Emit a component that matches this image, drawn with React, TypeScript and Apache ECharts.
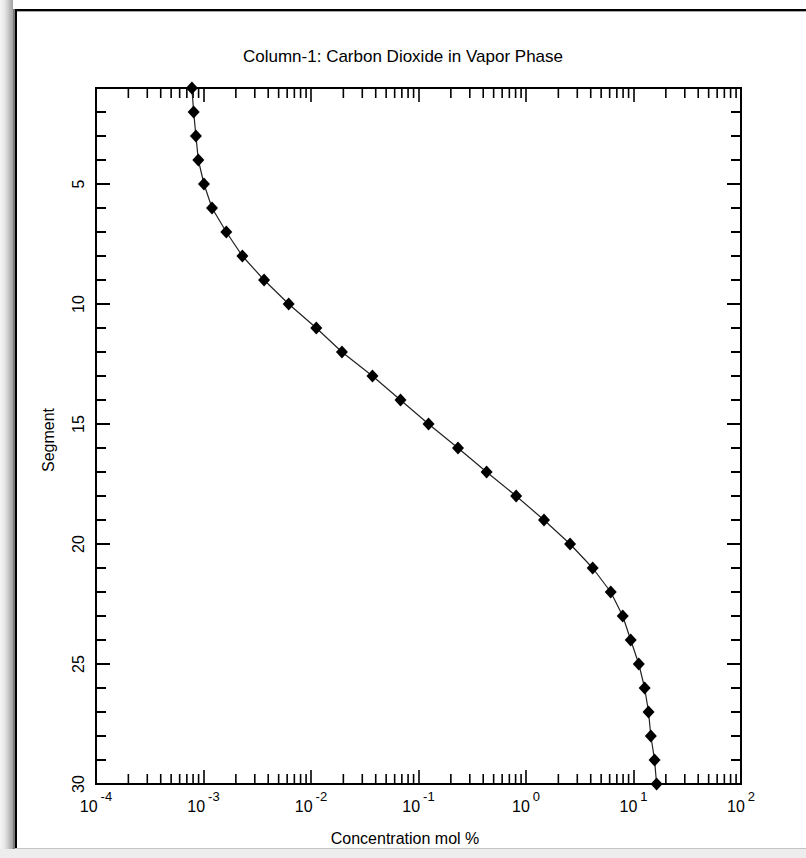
import React, { useEffect, useRef } from "react";
import * as echarts from "echarts";

const titleText = "Column-1: Carbon Dioxide in Vapor Phase";
const xAxisName = "Concentration mol %";
const yAxisName = "Segment";

const segments = [1, 2, 3, 4, 5, 6, 7, 8, 9, 10, 11, 12, 13, 14, 15, 16, 17, 18, 19, 20, 21, 22, 23, 24, 25, 26, 27, 28, 29, 30];
const concentration = [
  7.8e-4, 8.1e-4, 8.5e-4, 8.95e-4, 1.01e-3, 1.2e-3, 1.63e-3, 2.3e-3, 3.66e-3, 6.2e-3,
  1.12e-2, 1.94e-2, 3.73e-2, 6.8e-2, 0.124, 0.233, 0.43, 0.81, 1.47, 2.57,
  4.17, 6.14, 7.94, 9.42, 11.2, 12.7, 13.8, 14.5, 15.7, 16.4,
];

const xMin = 1e-4;
const xMax = 100;
const yMin = 1;
const yMax = 30;
const yLabelValues = [5, 10, 15, 20, 25, 30];
const yMajorTicks = [5, 10, 15, 20, 25];

const decades = [-4, -3, -2, -1, 0, 1];
const mantissas = [2, 3, 4, 5, 6, 7, 8, 9];
const xMinorTicks: number[] = [];
decades.forEach((d) => mantissas.forEach((m) => xMinorTicks.push(m * Math.pow(10, d))));

const FONT = "'Liberation Sans', Arial, sans-serif";

function xTickSeries(values: number[], len: number) {
  return {
    type: "custom",
    silent: true,
    xAxisIndex: 0,
    yAxisIndex: 0,
    z: 3,
    data: values.map((v) => [v, yMin]),
    renderItem: (_p: any, api: any) => {
      const v = api.value(0);
      const top = api.coord([v, yMin]);
      const bot = api.coord([v, yMax]);
      const st = { stroke: "#000", lineWidth: 1.6 };
      return {
        type: "group",
        children: [
          { type: "line", shape: { x1: top[0], y1: top[1], x2: top[0], y2: top[1] + len }, style: st },
          { type: "line", shape: { x1: bot[0], y1: bot[1], x2: bot[0], y2: bot[1] - len }, style: st },
        ],
      };
    },
  };
}

function yTickSeries(values: number[], len: number) {
  return {
    type: "custom",
    silent: true,
    xAxisIndex: 0,
    yAxisIndex: 0,
    z: 3,
    data: values.map((v) => [xMin, v]),
    renderItem: (_p: any, api: any) => {
      const v = api.value(1);
      const l = api.coord([xMin, v]);
      const r = api.coord([xMax, v]);
      const st = { stroke: "#000", lineWidth: 2 };
      return {
        type: "group",
        children: [
          { type: "line", shape: { x1: l[0], y1: l[1], x2: l[0] + len, y2: l[1] }, style: st },
          { type: "line", shape: { x1: r[0], y1: r[1], x2: r[0] - len, y2: r[1] }, style: st },
        ],
      };
    },
  };
}

export default function App() {
  const ref = useRef<HTMLDivElement>(null);
  useEffect(() => {
    if (!ref.current) return;
    const chart = echarts.init(ref.current, null, { renderer: "svg" });
    const yAxisBase = {
      type: "value",
      min: yMin,
      max: yMax,
      interval: 1,
      inverse: true,
      splitLine: { show: false },
      axisLine: { show: false },
      axisTick: { show: true, inside: true, length: 10, lineStyle: { color: "#000", width: 2 } },
    };
    chart.setOption({
      animation: false,
      backgroundColor: "#fff",
      title: {
        text: titleText,
        left: "center",
        top: 43,
        textStyle: { fontFamily: FONT, fontSize: 17, fontWeight: "normal", color: "#000" },
      },
      grid: {
        left: 96,
        top: 88,
        width: 645,
        height: 696,
        show: true,
        borderColor: "#000",
        borderWidth: 2,
        backgroundColor: "transparent",
      },
      xAxis: [
        {
          type: "log",
          logBase: 10,
          min: xMin,
          max: xMax,
          splitNumber: 6,
          position: "bottom",
          name: xAxisName,
          nameLocation: "middle",
          nameGap: 46,
          nameTextStyle: { fontFamily: FONT, fontSize: 16, color: "#000", padding: [0, 27, 0, 0] },
          splitLine: { show: false },
          axisLine: { show: false },
          axisTick: { show: true, inside: true, length: 14, lineStyle: { color: "#000", width: 1.6 } },
          axisLabel: {
            margin: 6,
            formatter: (v: number) => `{b|10}{e|${Math.round(Math.log10(v))}}`,
            rich: {
              b: { fontFamily: FONT, fontSize: 16, color: "#000", lineHeight: 24, verticalAlign: "bottom" },
              e: { fontFamily: FONT, fontSize: 13, color: "#000", lineHeight: 24, verticalAlign: "top", padding: [0, 0, 0, 3] },
            },
          },
        },
        {
          type: "log",
          logBase: 10,
          min: xMin,
          max: xMax,
          splitNumber: 6,
          position: "top",
          splitLine: { show: false },
          axisLine: { show: false },
          axisLabel: { show: false },
          axisTick: { show: true, inside: true, length: 14, lineStyle: { color: "#000", width: 1.6 } },
        },
      ],
      yAxis: [
        {
          ...yAxisBase,
          position: "left",
          name: yAxisName,
          nameLocation: "middle",
          nameGap: 40,
          nameRotate: 90,
          nameTextStyle: { fontFamily: FONT, fontSize: 16, color: "#000", padding: [0, 8, 0, 0] },
          axisLabel: {
            rotate: 90,
            margin: 10,
            fontFamily: FONT,
            fontSize: 16,
            color: "#000",
            formatter: (v: number) => (yLabelValues.includes(v) ? String(v) : ""),
          },
        },
        {
          ...yAxisBase,
          position: "right",
          axisLabel: { show: false },
        },
      ],
      graphic: [
        {
          type: "rect",
          shape: { x: 0, y: 0, width: 13, height: 858 },
          style: {
            fill: new echarts.graphic.LinearGradient(0, 0, 1, 0, [
              { offset: 0, color: "#f6f6f6" },
              { offset: 0.4, color: "#e4e4e4" },
              { offset: 1, color: "#a0a0a0" },
            ]),
          },
          silent: true,
        },
        { type: "rect", shape: { x: 13, y: 9, width: 2, height: 840 }, style: { fill: "#7a7a7a" }, silent: true },
        { type: "rect", shape: { x: 15, y: 9, width: 2, height: 840 }, style: { fill: "#000" }, silent: true },
        { type: "rect", shape: { x: 15, y: 9, width: 791, height: 2 }, style: { fill: "#000" }, silent: true },
        { type: "rect", shape: { x: 17, y: 11, width: 789, height: 1 }, style: { fill: "#a8a8a8" }, silent: true },
        { type: "rect", shape: { x: 0, y: 849, width: 806, height: 9 }, style: { fill: "#ededed" }, silent: true },
        { type: "rect", shape: { x: 15, y: 848, width: 791, height: 1 }, style: { fill: "#c4c4c4" }, silent: true },
      ],
      series: [
        xTickSeries(xMinorTicks, 10),
        yTickSeries(yMajorTicks, 14),
        {
          type: "line",
          xAxisIndex: 0,
          yAxisIndex: 0,
          data: segments.map((s, i) => [concentration[i], s]),
          clip: false,
          z: 5,
          symbol: "diamond",
          symbolSize: [12, 13],
          itemStyle: { color: "#000" },
          lineStyle: { color: "#222", width: 1.2 },
        },
      ],
    });
    return () => chart.dispose();
  }, []);
  return (
    <div
      ref={ref}
      style={{ position: "absolute", left: 0, top: 0, width: 806, height: 858, background: "#fff" }}
    />
  );
}
